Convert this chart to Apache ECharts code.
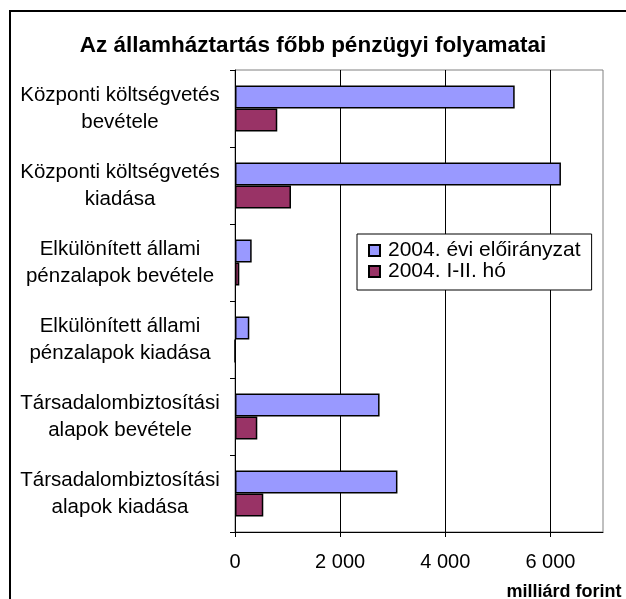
<!DOCTYPE html>
<html>
<head>
<meta charset="utf-8">
<script src="https://cdn.jsdelivr.net/npm/echarts@6/dist/echarts.min.js"></script>
<style>
  html, body { margin: 0; padding: 0; background: #fff; }
  #chart { width: 626px; height: 599px; }
</style>
</head>
<body>
<div id="chart"></div>
<script>
const categories = [
  'Központi költségvetés\nbevétele',
  'Központi költségvetés\nkiadása',
  'Elkülönített állami\npénzalapok bevétele',
  'Elkülönített állami\npénzalapok kiadása',
  'Társadalombiztosítási\nalapok bevétele',
  'Társadalombiztosítási\nalapok kiadása'
];
const plannedName = '2004. évi előirányzat';
const actualName = '2004. I-II. hó';
const planned = [5320, 6200, 317, 272, 2750, 3090];
const actual = [804, 1065, 82, 0, 424, 538];

const font = 'Arial, "Liberation Sans", sans-serif';

const chart = echarts.init(document.getElementById('chart'));

function formatThousands(v) {
  return String(v).replace(/\B(?=(\d{3})+(?!\d))/g, ' ');
}

chart.setOption({
  backgroundColor: '#fff',
  animation: false,
  title: {
    text: 'Az államháztartás főbb pénzügyi folyamatai',
    left: 'center',
    top: 29,
    textStyle: { fontFamily: font, fontSize: 22.5, fontWeight: 'bold', color: '#000' }
  },
  grid: {
    left: 235,
    right: 23,
    top: 70,
    bottom: 67,
    show: true,
    borderColor: '#808080',
    borderWidth: 1,
    backgroundColor: '#fff'
  },
  legend: {
    left: 357,
    top: 234,
    orient: 'vertical',
    icon: 'rect',
    itemWidth: 11,
    itemHeight: 11,
    itemGap: 0,
    padding: [6, 11, 8, 11],
    borderColor: '#000',
    borderWidth: 1,
    backgroundColor: '#fff',
    textStyle: { fontFamily: font, fontSize: 21, color: '#000', padding: [0, 0, 0, 3] },
    data: [plannedName, actualName]
  },
  xAxis: {
    type: 'value',
    min: 0,
    max: 7000,
    interval: 2000,
    axisLine: { show: true, lineStyle: { color: '#000', width: 1 } },
    axisTick: { show: true, length: 5, lineStyle: { color: '#000' } },
    axisLabel: {
      margin: 20,
      showMaxLabel: false,
      fontFamily: font,
      fontSize: 20,
      color: '#000',
      formatter: v => (v === 7000 ? '' : formatThousands(v))
    },
    splitLine: {
      show: true,
      showMinLine: false,
      showMaxLine: false,
      lineStyle: { color: '#000', width: 1 }
    }
  },
  yAxis: {
    type: 'category',
    inverse: true,
    data: categories,
    axisLine: { show: true, lineStyle: { color: '#000', width: 1 } },
    axisTick: { show: true, length: 5, lineStyle: { color: '#000' } },
    axisLabel: {
      align: 'center',
      margin: 115,
      fontFamily: font,
      fontSize: 20.5,
      lineHeight: 27,
      color: '#000'
    }
  },
  series: [
    {
      name: plannedName,
      type: 'bar',
      data: planned,
      barGap: '0%',
      barCategoryGap: '40%',
      itemStyle: { color: '#9999FF', borderColor: '#000', borderWidth: 1.5 }
    },
    {
      name: actualName,
      type: 'bar',
      data: actual,
      itemStyle: { color: '#993366', borderColor: '#000', borderWidth: 1.5 }
    }
  ],
  graphic: [
    {
      type: 'rect',
      silent: true,
      z: 100,
      shape: { x: 10, y: 11, width: 700, height: 700 },
      style: { fill: null, stroke: '#000', lineWidth: 2 }
    },
    {
      type: 'text',
      x: 564,
      y: 592,
      style: {
        text: 'milliárd forint',
        fontFamily: font,
        fontSize: 18,
        fontWeight: 'bold',
        fill: '#000',
        align: 'center',
        verticalAlign: 'middle'
      }
    }
  ]
});
</script>
</body>
</html>
